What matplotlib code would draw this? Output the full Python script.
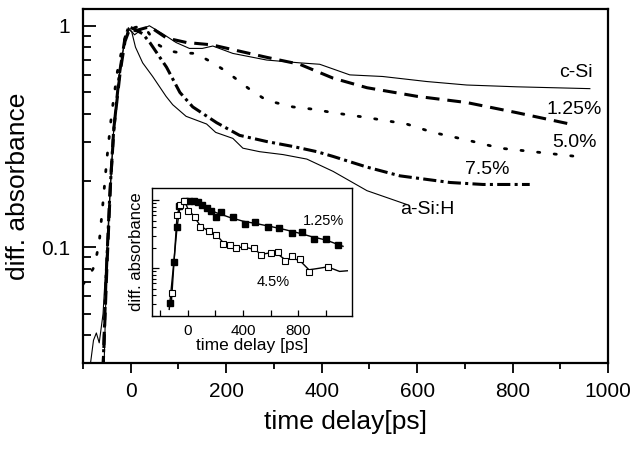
import matplotlib
matplotlib.use("Agg")
import matplotlib.pyplot as plt
from matplotlib.ticker import LogLocator, NullFormatter, FixedLocator
import numpy as np

plt.rcParams['font.family'] = ['Liberation Sans', 'DejaVu Sans']

# main panel curves (time delay in ps, diff. absorbance)
csi_x = [-86, -78, -72, -66, -58, -44, -36, -24, -13, -5, 8, 22, 39, 67, 95, 123, 150, 172,
         214, 285, 354, 396, 459, 528, 620, 704, 809, 962]
csi_y = [0.028, 0.038, 0.041, 0.037, 0.05, 0.165, 0.33, 0.6, 0.85, 0.98, 0.91, 0.96, 1.0, 0.92,
         0.84, 0.79, 0.79, 0.81, 0.75, 0.70, 0.68, 0.67, 0.60, 0.59, 0.56, 0.54, 0.53, 0.52]

p125_x = [-58, -50, -42, -35, -22, -12, -2, 10, 25, 40, 75, 117, 170, 214, 285, 354, 424, 495,
          600, 704, 809, 920]
p125_y = [0.028, 0.08, 0.2, 0.35, 0.62, 0.85, 0.97, 0.95, 0.97, 0.99, 0.88, 0.84, 0.82, 0.78,
          0.72, 0.67, 0.58, 0.525, 0.48, 0.45, 0.405, 0.36]

p50_x = [-100, -88, -76, -66, -58, -50, -40, -28, -15, 0, 15, 30, 45, 60, 80, 103, 136, 172,
         201, 250, 285, 340, 382, 424, 495, 578, 633, 704, 774, 843, 948]
p50_y = [0.068, 0.074, 0.082, 0.105, 0.16, 0.25, 0.4, 0.62, 0.85, 0.97, 0.99, 0.98, 0.88, 0.815,
         0.77, 0.755, 0.75, 0.68, 0.62, 0.515, 0.46, 0.43, 0.42, 0.405, 0.385, 0.36, 0.33,
         0.305, 0.28, 0.27, 0.255]

p75_x = [-58, -52, -44, -36, -24, -12, -4, 10, 25, 40, 75, 103, 130, 180, 228, 285, 340, 390,
         424, 495, 564, 669, 738, 836]
p75_y = [0.028, 0.07, 0.17, 0.33, 0.6, 0.88, 0.99, 0.96, 0.92, 0.84, 0.65, 0.50, 0.43, 0.365,
         0.32, 0.30, 0.285, 0.27, 0.257, 0.23, 0.21, 0.196, 0.192, 0.192]

asi_x = [-56, -52, -44, -36, -24, -13, -4, 2, 10, 25, 46, 74, 88, 116, 159, 178, 214, 235,
         270, 319, 369, 424, 495, 578]
asi_y = [0.028, 0.06, 0.165, 0.33, 0.6, 0.85, 0.96, 0.94, 0.8, 0.68, 0.59, 0.48, 0.44, 0.39,
         0.36, 0.33, 0.31, 0.28, 0.27, 0.262, 0.25, 0.22, 0.18, 0.156]

# inset data
ins_fill_x = [-131, -102, -78, -61, -24, 12, 44, 73, 102, 141, 170, 206, 242, 327, 412, 490,
              582, 662, 752, 831, 914, 1001, 1091]
ins_fill_y = [0.031, 0.122, 0.40, 0.83, 0.98, 0.98, 0.96, 0.93, 0.86, 0.77, 0.70, 0.56, 0.66,
              0.56, 0.45, 0.48, 0.40, 0.39, 0.33, 0.34, 0.27, 0.27, 0.22]
ins_fill_lx = [-135, -102, -78, -55, -20, 20, 60, 120, 200, 300, 400, 500, 600, 700, 800, 900,
               1000, 1125]
ins_fill_ly = [0.025, 0.12, 0.4, 0.85, 0.98, 0.99, 0.95, 0.82, 0.66, 0.56, 0.49, 0.45, 0.41,
               0.37, 0.33, 0.29, 0.26, 0.21]

ins_open_x = [-114, -78, -56, -29, 0, 49, 90, 150, 206, 255, 303, 352, 405, 480, 533, 606, 655,
              703, 756, 812, 878, 1013]
ins_open_y = [0.043, 0.60, 0.85, 0.98, 0.70, 0.56, 0.40, 0.35, 0.31, 0.23, 0.22, 0.20, 0.21,
              0.20, 0.155, 0.17, 0.175, 0.13, 0.15, 0.135, 0.087, 0.106]
ins_open_lx = [-120, -78, -50, -25, 0, 49, 90, 150, 206, 255, 303, 352, 405, 480, 533, 606, 655,
               703, 756, 812, 878, 950, 1013, 1100, 1156]
ins_open_ly = [0.03, 0.6, 0.92, 0.98, 0.75, 0.56, 0.42, 0.35, 0.31, 0.24, 0.22, 0.2, 0.205,
               0.19, 0.16, 0.17, 0.16, 0.135, 0.14, 0.13, 0.095, 0.1, 0.105, 0.09, 0.092]

fig = plt.figure(figsize=(6.34, 4.51), dpi=100)
ax = fig.add_axes([0.1309, 0.1951, 0.8281, 0.7849])

ax.plot(csi_x, csi_y, color='black', lw=0.8)
ax.plot(asi_x, asi_y, color='black', lw=0.8)
ax.plot(p125_x, p125_y, color='black', lw=2.2, dashes=(4.5, 2.6))
ax.plot(p50_x, p50_y, color='black', lw=2.0, dashes=(0.8, 5.2), dash_capstyle='round')
ax.plot(p75_x, p75_y, color='black', lw=2.2, dashes=(4.3, 1.4, 1.0, 1.4))

ax.set_yscale('log')
ax.set_xlim(-100, 1000)
ax.set_ylim(0.03, 1.19)
ax.set_xticks([0, 200, 400, 600, 800, 1000])
ax.set_xticks(np.arange(-100, 1000, 200), minor=True)
ax.yaxis.set_major_locator(FixedLocator([0.1, 1]))
ax.set_yticklabels(['0.1', '1'])
ax.yaxis.set_minor_locator(LogLocator(base=10, subs=np.arange(2, 10)))
ax.yaxis.set_minor_formatter(NullFormatter())
ax.tick_params(axis='x', which='major', direction='out', length=7, width=1.3, labelsize=15, pad=7)
ax.tick_params(axis='x', which='minor', direction='out', length=4, width=1.3)
ax.tick_params(axis='y', which='major', direction='in', length=9, width=1.3, labelsize=15, pad=9)
ax.tick_params(axis='y', which='minor', direction='in', length=6, width=1.3)
for s in ax.spines.values():
    s.set_linewidth(1.6)

ax.set_xlabel('time delay[ps]', fontsize=19, labelpad=6)
ax.set_ylabel('diff. absorbance', fontsize=19, labelpad=8)

ax.text(968, 0.614, 'c-Si', fontsize=14, ha='right', va='center')
ax.text(987, 0.418, '1.25%', fontsize=14, ha='right', va='center')
ax.text(977, 0.297, '5.0%', fontsize=14, ha='right', va='center')
ax.text(746, 0.224, '7.5%', fontsize=14, ha='center', va='center')
ax.text(565, 0.148, 'a-Si:H', fontsize=14, ha='left', va='center')

# inset
ins = fig.add_axes([0.2397, 0.2993, 0.3155, 0.2838])
ins.plot(ins_fill_lx, ins_fill_ly, color='black', lw=1.0)
ins.plot(ins_open_lx, ins_open_ly, color='black', lw=1.0)
ins.plot(ins_fill_x, ins_fill_y, ls='none', marker='s', ms=4.5, mfc='black', mec='black')
ins.plot(ins_open_x, ins_open_y, ls='none', marker='s', ms=4.5, mfc='white', mec='black', mew=0.8)
ins.set_yscale('log')
ins.set_xlim(-260, 1190)
ins.set_ylim(0.02, 1.5)
ins.set_xticks([-200, 0, 200, 400, 600, 800, 1000])
ins.set_xticklabels(['', '0', '', '400', '', '800', ''])
ins.yaxis.set_major_locator(FixedLocator([0.1, 1]))
ins.yaxis.set_major_formatter(NullFormatter())
ins.yaxis.set_minor_locator(LogLocator(base=10, subs=np.arange(2, 10)))
ins.yaxis.set_minor_formatter(NullFormatter())
ins.tick_params(axis='x', which='major', direction='in', length=4, width=0.9, labelsize=11, pad=6)
ins.tick_params(axis='y', which='major', direction='in', length=5, width=0.9)
ins.tick_params(axis='y', which='minor', direction='in', length=3, width=0.8)
for s in ins.spines.values():
    s.set_linewidth(1.0)
ins.set_xlabel('time delay [ps]', fontsize=12.5, labelpad=0)
ins.set_ylabel('diff. absorbance', fontsize=12, labelpad=2)
ins.text(985, 0.5, '1.25%', fontsize=10.5, ha='center', va='center')
ins.text(620, 0.062, '4.5%', fontsize=10.5, ha='center', va='center')

fig.savefig('out.png', dpi=100)
